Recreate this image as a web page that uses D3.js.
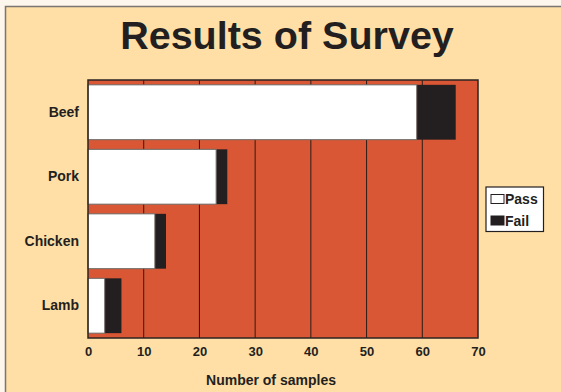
<!DOCTYPE html>
<html>
<head>
<meta charset="utf-8">
<script src="https://cdn.jsdelivr.net/npm/d3@7"></script>
<style>
  html, body { margin: 0; padding: 0; background: #FDF6EC; }
  svg { display: block; }
  text { font-family: "Liberation Sans", Arial, sans-serif; font-weight: bold; fill: #231F20; }
</style>
</head>
<body>
<svg id="chart" width="561" height="392"></svg>
<script>
// Survey results per meat type
const categories = ["Beef", "Pork", "Chicken", "Lamb"];
const passValues = [59, 23, 12, 3];
const failValues = [7, 2, 2, 3];
const seriesNames = ["Pass", "Fail"];
const xTicks = [0, 10, 20, 30, 40, 50, 60, 70];

const svg = d3.select("#chart");
const W = 561, H = 392;

// Outer panel
svg.append("rect")
  .attr("x", 5.5).attr("y", 6.5)
  .attr("width", W + 10).attr("height", H + 10)
  .attr("fill", "#FFDFA6")
  .attr("stroke", "#7a7570").attr("stroke-width", 1.5);

// Title
svg.append("text")
  .attr("x", 287).attr("y", 49)
  .attr("text-anchor", "middle")
  .attr("font-size", 39.5)
  .text("Results of Survey");

const plot = { left: 88, right: 478, top: 80, bottom: 338 };

const x = d3.scaleLinear().domain([0, 70]).range([plot.left, plot.right]);
const y = d3.scaleBand().domain(categories)
  .range([plot.top, plot.bottom]).paddingInner(0.15).paddingOuter(0.075);

// Plot background
svg.append("rect")
  .attr("x", plot.left).attr("y", plot.top)
  .attr("width", plot.right - plot.left).attr("height", plot.bottom - plot.top)
  .attr("fill", "#D95734");

// Vertical grid lines
svg.append("g").selectAll("line")
  .data(xTicks.slice(1, -1))
  .join("line")
  .attr("x1", d => x(d)).attr("x2", d => x(d))
  .attr("y1", plot.top).attr("y2", plot.bottom)
  .attr("stroke", "#2b1d18").attr("stroke-width", 1);

// Stacked bars
const rows = categories.map((c, i) => ({ cat: c, pass: passValues[i], fail: failValues[i] }));
const bars = svg.append("g");
bars.selectAll("rect.fail")
  .data(rows).join("rect").attr("class", "fail")
  .attr("x", d => x(d.pass)).attr("y", d => y(d.cat))
  .attr("width", d => x(d.pass + d.fail) - x(d.pass)).attr("height", y.bandwidth())
  .attr("fill", "#231F20");
bars.selectAll("rect.pass")
  .data(rows).join("rect").attr("class", "pass")
  .attr("x", d => x(0)).attr("y", d => y(d.cat))
  .attr("width", d => x(d.pass) - x(0)).attr("height", y.bandwidth())
  .attr("fill", "#ffffff").attr("stroke", "#6d6a68").attr("stroke-width", 1);

// Plot frame
svg.append("rect")
  .attr("x", plot.left).attr("y", plot.top)
  .attr("width", plot.right - plot.left).attr("height", plot.bottom - plot.top)
  .attr("fill", "none").attr("stroke", "#2b2522").attr("stroke-width", 1.5);

// X axis labels
const xAxis = svg.append("g")
  .attr("transform", `translate(0,${plot.bottom})`)
  .call(d3.axisBottom(x).tickValues(xTicks).tickSize(0).tickPadding(9));
xAxis.select(".domain").remove();
xAxis.selectAll("text").attr("font-size", 13).attr("fill", "#231F20")
  .style("font-family", '"Liberation Sans", Arial, sans-serif').style("font-weight", "bold");

// Y axis labels
const yAxis = svg.append("g")
  .attr("transform", `translate(${plot.left},0)`)
  .call(d3.axisLeft(y).tickSize(0).tickPadding(9));
yAxis.select(".domain").remove();
yAxis.selectAll("text").attr("font-size", 14).attr("fill", "#231F20")
  .style("font-family", '"Liberation Sans", Arial, sans-serif').style("font-weight", "bold");

// Axis title
svg.append("text")
  .attr("x", (plot.left + plot.right) / 2 - 12).attr("y", 385)
  .attr("text-anchor", "middle").attr("font-size", 14)
  .text("Number of samples");

// Legend
const legend = svg.append("g").attr("transform", "translate(486,187)");
legend.append("rect")
  .attr("width", 57.5).attr("height", 44.5)
  .attr("fill", "#ffffff").attr("stroke", "#231F20").attr("stroke-width", 1.2);
const swatchFill = ["#ffffff", "#231F20"];
seriesNames.forEach((name, i) => {
  const cy = 12 + i * 21.5;
  legend.append("rect")
    .attr("x", 5).attr("y", cy - 4.5).attr("width", 13).attr("height", 9)
    .attr("fill", swatchFill[i]).attr("stroke", "#231F20").attr("stroke-width", 1);
  legend.append("text")
    .attr("x", 19).attr("y", cy + 5)
    .attr("font-size", 14)
    .text(name);
});
</script>
</body>
</html>
